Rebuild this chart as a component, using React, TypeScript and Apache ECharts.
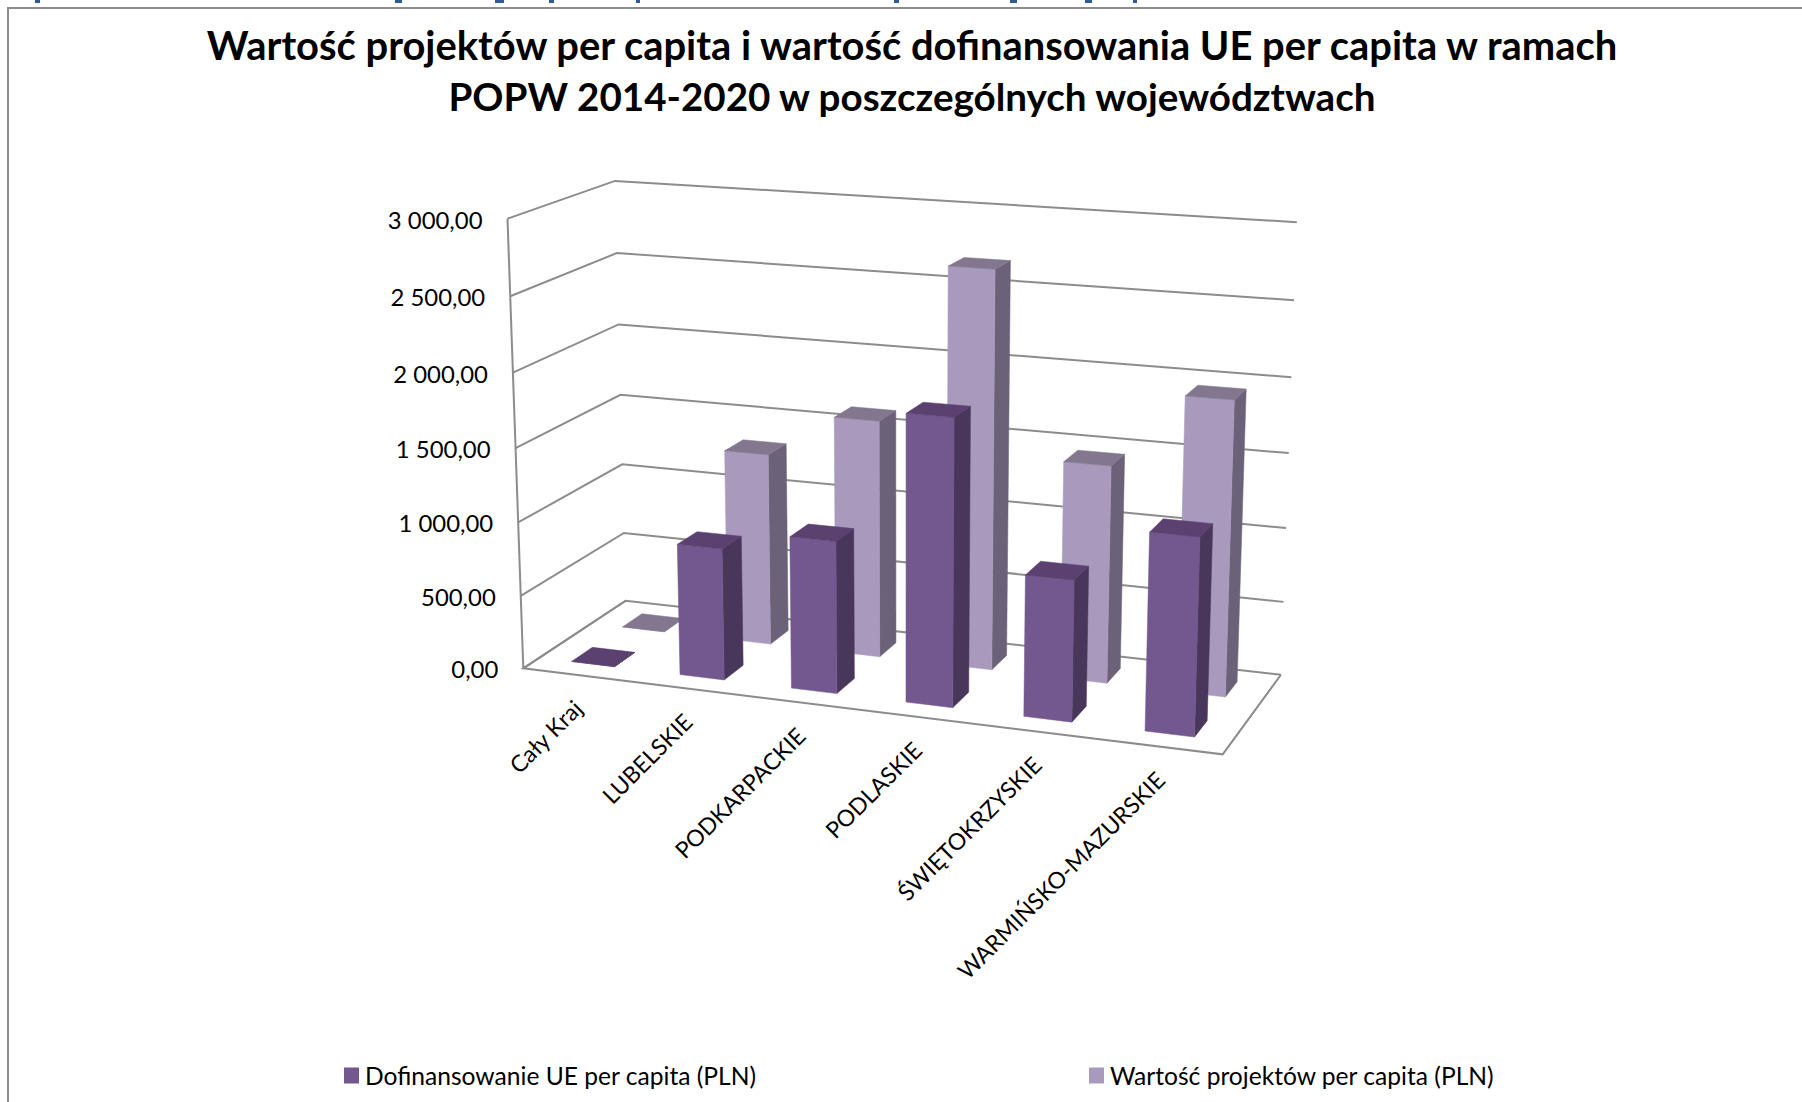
import React, { useEffect, useRef } from "react";
import * as echarts from "echarts";

const categories = ["Cały Kraj", "LUBELSKIE", "PODKARPACKIE", "PODLASKIE", "ŚWIĘTOKRZYSKIE", "WARMIŃSKO-MAZURSKIE"];
const dofinansowanie = [0, 889, 1018, 1894, 928, 1282];
const wartoscProjektow = [0, 1323, 1619, 2680, 1459, 1956];
const yTicks = [0, 500, 1000, 1500, 2000, 2500, 3000];
const yTickLabels = ["0,00", "500,00", "1 000,00", "1 500,00", "2 000,00", "2 500,00", "3 000,00"];
const titleLine1 = "Wartość projektów per capita i wartość dofinansowania UE per capita w ramach";
const titleLine2 = "POPW 2014-2020 w poszczególnych województwach";
const SERIES_FRONT = "Dofinansowanie UE per capita (PLN)";
const SERIES_BACK = "Wartość projektów per capita (PLN)";
// Feet of the letters of the page's cropped caption line above the frame: x, width
const cutOffMarks = [[35, 5], [395, 7], [495, 9], [549, 5], [636, 4], [894, 5], [1010, 7], [1085, 7], [1133, 4]];

const FONT = "Lato";
const GRID = { left: 100, top: 100, width: 1200, height: 900 };
const GRIDLINE = "#8c8c8c";

// Camera: homogeneous projection of the unit cube (u along categories, v in depth, w up)
const CAM = {
  ox: 523.3, oy: 668.3,
  ux: 599.8, uy: 24.6, a: -0.08145,
  vx: 149.0, vy: -22.8, b: 0.07454,
  wx: -36.1, wy: -458.35, c: -0.04,
};
function project(u: number, v: number, w: number): number[] {
  const t = 1 + CAM.a * u + CAM.b * v + CAM.c * w;
  return [
    (CAM.ox + CAM.ux * u + CAM.vx * v + CAM.wx * w) / t,
    (CAM.oy + CAM.uy * u + CAM.vy * v + CAM.wy * w) / t,
  ];
}
const toU = (px: number) => (px - GRID.left) / GRID.width;
const toW = (py: number) => (GRID.top + GRID.height - py) / GRID.height;

function barRenderer(vFrom: number, vTo: number, face: string, side: string, top: string) {
  return (_params: any, api: any) => {
    const pt = api.coord([api.value(0), api.value(1)]);
    const half = (api.size([1, 0])[0] * 0.4) / GRID.width / 2;
    const uc = toU(pt[0]);
    const h = toW(pt[1]);
    const u0 = uc - half;
    const u1 = uc + half;
    const poly = (points: number[][], fill: string) => ({
      type: "polygon",
      shape: { points },
      style: { fill, stroke: fill, lineWidth: 0.5 },
    });
    return {
      type: "group",
      children: [
        poly([project(u1, vFrom, 0), project(u1, vTo, 0), project(u1, vTo, h), project(u1, vFrom, h)], side),
        poly([project(u0, vFrom, 0), project(u1, vFrom, 0), project(u1, vFrom, h), project(u0, vFrom, h)], face),
        poly([project(u0, vFrom, h), project(u1, vFrom, h), project(u1, vTo, h), project(u0, vTo, h)], top),
      ],
    };
  };
}

function wallRenderer(params: any, api: any) {
  const w = toW(api.coord([0, api.value(0)])[1]);
  const lineStyle = { stroke: GRIDLINE, lineWidth: 2, fill: "none" };
  const a = project(0, 0, w);
  return {
    type: "group",
    children: [
      { type: "polyline", shape: { points: [a, project(0, 1, w), project(1, 1, w)] }, style: lineStyle },
      {
        type: "text",
        x: a[0] - 25,
        y: a[1] + 0.5,
        style: {
          text: yTickLabels[params.dataIndex],
          fontFamily: FONT,
          fontSize: 23.9,
          fill: "#000000",
          align: "right",
          verticalAlign: "middle",
        },
      },
    ],
  };
}

function frameRenderer() {
  const lineStyle = { stroke: GRIDLINE, lineWidth: 2, fill: "none" };
  return {
    type: "group",
    children: [
      { type: "line", shape: { x1: project(0, 0, 0)[0], y1: project(0, 0, 0)[1], x2: project(0, 0, 1)[0], y2: project(0, 0, 1)[1] }, style: lineStyle },
      {
        type: "polyline",
        shape: { points: [project(0, 1, 0), project(0, 0, 0), project(1, 0, 0), project(1, 1, 0)] },
        style: lineStyle,
      },
    ],
  };
}

function categoryLabelRenderer(params: any, api: any) {
  const u = toU(api.coord([api.value(0), 0])[0]);
  const p = project(u, 0, 0);
  return {
    type: "text",
    x: p[0] + 0.5,
    y: p[1] + 29,
    rotation: Math.PI / 4,
    style: {
      text: categories[params.dataIndex],
      fontFamily: FONT,
      fontSize: 23,
      fill: "#000000",
      align: "right",
      verticalAlign: "middle",
    },
  };
}

export default function App() {
  const ref = useRef<HTMLDivElement>(null);
  useEffect(() => {
    const chart = echarts.init(ref.current!, null, { renderer: "svg" });
    const legendBase = {
      orient: "horizontal",
      padding: 0,
      itemWidth: 15,
      itemHeight: 16,
      itemGap: 0,
      icon: "rect",
      selectedMode: false,
      textStyle: { fontFamily: FONT, fontSize: 24.6, color: "#000000", padding: [0, 0, 0, 1] },
    };
    const titleStyle = { fontFamily: FONT, fontWeight: "bold", color: "#000000" };
    chart.setOption({
      animation: false,
      backgroundColor: "#ffffff",
      title: [
        {
          text: titleLine1,
          left: 907,
          top: 19,
          textAlign: "center",
          textStyle: { ...titleStyle, fontSize: 39.9 },
        },
        {
          text: titleLine2,
          left: 907,
          top: 71,
          textAlign: "center",
          textStyle: { ...titleStyle, fontSize: 38.6 },
        },
      ],
      grid: GRID,
      xAxis: { type: "category", data: categories, show: false },
      yAxis: { type: "value", min: 0, max: 3000, interval: 500, show: false },
      legend: [
        { ...legendBase, data: [SERIES_FRONT], left: 344, top: 1063 },
        { ...legendBase, data: [SERIES_BACK], left: 1089, top: 1063 },
      ],
      graphic: [
        { type: "rect", shape: { x: 8, y: 8, width: 1900, height: 1200 }, style: { fill: "none", stroke: "#8c8c8c", lineWidth: 2 }, silent: true },
        ...cutOffMarks.map(([x, width]) => ({
          type: "rect",
          shape: { x, y: 0, width, height: 3 },
          style: { fill: "#2f5b97" },
          silent: true,
        })),
      ],
      series: [
        {
          type: "custom",
          name: "walls",
          renderItem: wallRenderer,
          data: yTicks.map((t) => [t]),
          encode: { y: 0 },
          silent: true,
        },
        {
          type: "custom",
          name: "floor",
          renderItem: frameRenderer,
          data: [[0]],
          silent: true,
        },
        {
          type: "custom",
          name: SERIES_BACK,
          itemStyle: { color: "#a99abd" },
          renderItem: barRenderer(0.65, 0.85, "#a99abd", "#6b6279", "#82778f"),
          data: wartoscProjektow.map((v, i) => [i, v]),
          encode: { x: 0, y: 1 },
          silent: true,
        },
        {
          type: "custom",
          name: SERIES_FRONT,
          itemStyle: { color: "#73578f" },
          renderItem: barRenderer(0.15, 0.35, "#73578f", "#49375b", "#5a4170"),
          data: dofinansowanie.map((v, i) => [i, v]),
          encode: { x: 0, y: 1 },
          silent: true,
        },
        {
          type: "custom",
          name: "categoryLabels",
          renderItem: categoryLabelRenderer,
          data: categories.map((_, i) => [i]),
          encode: { x: 0 },
          silent: true,
        },
      ],
    });
    return () => chart.dispose();
  }, []);
  return <div ref={ref} style={{ position: "absolute", left: 0, top: 0, width: 1802, height: 1102, overflow: "hidden" }} />;
}
